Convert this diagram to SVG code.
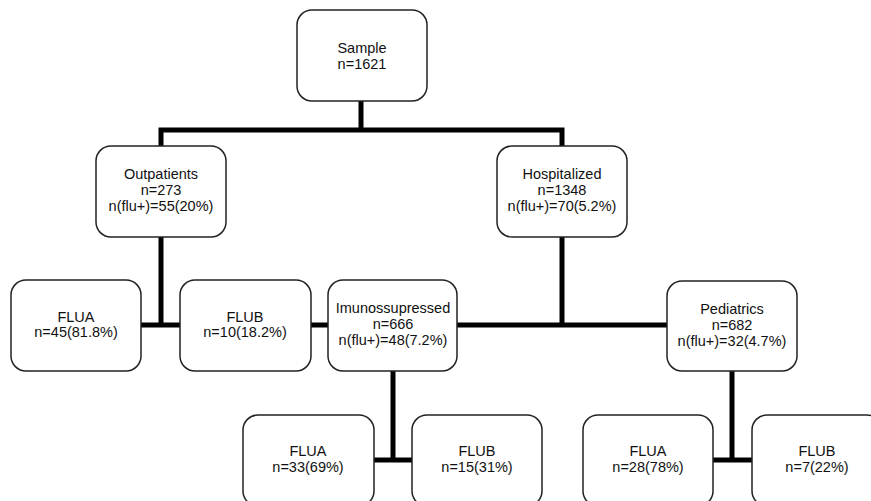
<svg xmlns="http://www.w3.org/2000/svg" width="871" height="501" viewBox="0 0 871 501">
<style>
.box{fill:#fff;stroke:#222;stroke-width:1.5}
.t{font-family:"Liberation Sans",Arial,sans-serif;font-size:14.5px;fill:#111;text-anchor:middle}
.c{fill:none;stroke:#000;stroke-width:5;stroke-linejoin:miter}
</style>
<rect width="871" height="501" fill="#fff"/>
<g id="connectors">
<path class="c" d="M361,101 V130"/>
<path class="c" d="M161,146 V130 H562 V146"/>
<path class="c" d="M161,237 V325"/>
<path class="c" d="M141,325 H180"/>
<path class="c" d="M311,325 H328"/>
<path class="c" d="M562,237 V325"/>
<path class="c" d="M457,325 H667"/>
<path class="c" d="M393,371 V460"/>
<path class="c" d="M374,460 H412"/>
<path class="c" d="M732,371 V460"/>
<path class="c" d="M713,460 H752"/>
</g>
<g id="sample"><rect class="box" x="297" y="10" width="130" height="91" rx="15"/>
<text class="t" x="362" y="53">Sample</text><text class="t" x="362" y="69">n=1621</text></g>
<g id="outpatients"><rect class="box" x="96" y="146" width="130" height="91" rx="15"/>
<text class="t" x="161" y="179">Outpatients</text><text class="t" x="161" y="195">n=273</text><text class="t" x="161" y="211">n(flu+)=55(20%)</text></g>
<g id="hospitalized"><rect class="box" x="497" y="146" width="130" height="91" rx="15"/>
<text class="t" x="562" y="179">Hospitalized</text><text class="t" x="562" y="195">n=1348</text><text class="t" x="562" y="211">n(flu+)=70(5.2%)</text></g>
<g id="out-flua"><rect class="box" x="11" y="280" width="130" height="91" rx="15"/>
<text class="t" x="76" y="322">FLUA</text><text class="t" x="76" y="337">n=45(81.8%)</text></g>
<g id="out-flub"><rect class="box" x="180" y="280" width="131" height="91" rx="15"/>
<text class="t" x="245" y="322">FLUB</text><text class="t" x="245" y="337">n=10(18.2%)</text></g>
<g id="imuno"><rect class="box" x="328" y="280" width="129" height="91" rx="15"/>
<text class="t" x="393" y="313">Imunossupressed</text><text class="t" x="393" y="329">n=666</text><text class="t" x="393" y="345">n(flu+)=48(7.2%)</text></g>
<g id="pediatrics"><rect class="box" x="667" y="281" width="130" height="90" rx="15"/>
<text class="t" x="732" y="314">Pediatrics</text><text class="t" x="732" y="330">n=682</text><text class="t" x="732" y="346">n(flu+)=32(4.7%)</text></g>
<g id="imuno-flua"><rect class="box" x="243" y="415" width="131" height="91" rx="15"/>
<text class="t" x="308" y="456">FLUA</text><text class="t" x="308" y="472">n=33(69%)</text></g>
<g id="imuno-flub"><rect class="box" x="412" y="415" width="130" height="91" rx="15"/>
<text class="t" x="477" y="456">FLUB</text><text class="t" x="477" y="472">n=15(31%)</text></g>
<g id="ped-flua"><rect class="box" x="583" y="415" width="130" height="91" rx="15"/>
<text class="t" x="648" y="456">FLUA</text><text class="t" x="648" y="472">n=28(78%)</text></g>
<g id="ped-flub"><rect class="box" x="752" y="415" width="130" height="91" rx="15"/>
<text class="t" x="817" y="456">FLUB</text><text class="t" x="817" y="472">n=7(22%)</text></g>
</svg>
